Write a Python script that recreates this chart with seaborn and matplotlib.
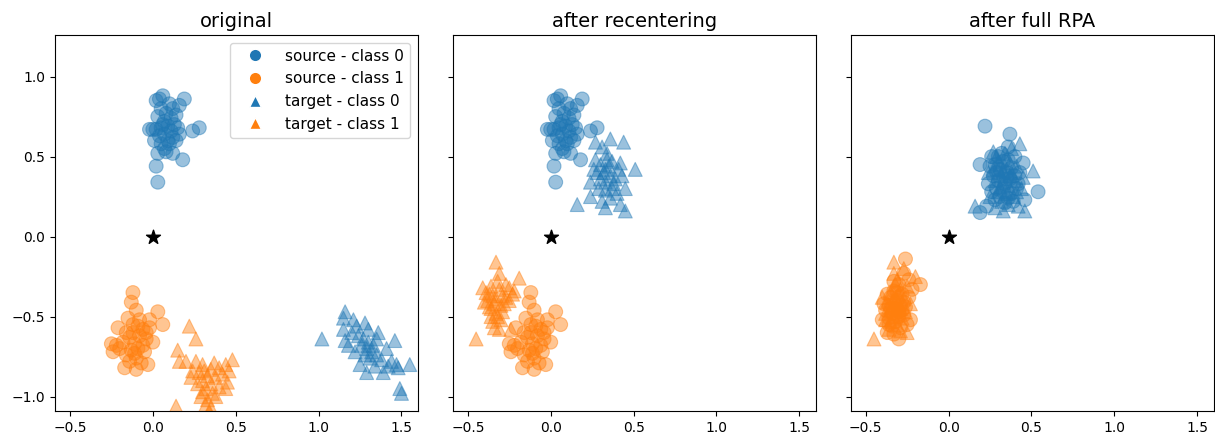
import seaborn as sns
import matplotlib.pyplot as plt
import pandas as pd
from matplotlib.lines import Line2D

# values
# --- original / after recentering: source data (identical in both panels)
src0_x = [0.04, 0.06, 0.02, 0.19, 0.16, 0.10, 0.12, 0.05, 0.08, 0.03, 0.11, 0.14, 0.07, 0.00,
          -0.02, 0.02, 0.05, 0.09, 0.13, 0.15, 0.11, 0.07, 0.04, 0.12, 0.09, 0.05, 0.14, 0.28,
          0.24, 0.07, 0.03, 0.12, 0.08, 0.18, 0.02, 0.03, 0.10, 0.06, 0.16, 0.01]
src0_y = [0.86, 0.88, 0.85, 0.86, 0.82, 0.83, 0.80, 0.80, 0.77, 0.75, 0.74, 0.76, 0.72, 0.67,
          0.67, 0.67, 0.68, 0.69, 0.70, 0.68, 0.66, 0.64, 0.63, 0.62, 0.60, 0.58, 0.60, 0.68,
          0.66, 0.55, 0.52, 0.52, 0.53, 0.48, 0.44, 0.34, 0.58, 0.70, 0.64, 0.60]
src1_x = [-0.12, -0.13, -0.10, -0.15, -0.08, 0.03, 0.06, -0.02, -0.21, -0.25, 0.00, -0.03, -0.17,
          -0.10, -0.12, -0.06, -0.04, -0.08, -0.14, -0.18, -0.11, -0.06, -0.09, -0.13, -0.16,
          -0.20, -0.22, -0.05, -0.10, -0.14, -0.07, -0.12, -0.02, -0.09, -0.16, -0.11, -0.24, -0.04]
src1_y = [-0.35, -0.41, -0.46, -0.51, -0.52, -0.47, -0.55, -0.52, -0.57, -0.67, -0.66, -0.80, -0.82,
          -0.83, -0.55, -0.58, -0.60, -0.62, -0.63, -0.66, -0.67, -0.68, -0.70, -0.71, -0.74,
          -0.70, -0.68, -0.72, -0.76, -0.78, -0.79, -0.60, -0.57, -0.56, -0.60, -0.73, -0.72, -0.64]

# --- original: target data
tgt0_x = [1.02, 1.16, 1.15, 1.21, 1.28, 1.36, 1.46, 1.41, 1.55, 1.47, 1.49, 1.50, 1.39, 1.29,
          1.25, 1.15, 1.16, 1.20, 1.24, 1.27, 1.30, 1.33, 1.26, 1.29, 1.32, 1.35, 1.22, 1.28,
          1.31, 1.38, 1.42, 1.34, 1.23, 1.30, 1.18, 1.44, 1.35, 1.48]
tgt0_y = [-0.64, -0.47, -0.51, -0.52, -0.54, -0.60, -0.65, -0.70, -0.80, -0.80, -0.95, -0.98, -0.85,
          -0.85, -0.80, -0.58, -0.65, -0.60, -0.62, -0.64, -0.66, -0.68, -0.68, -0.70, -0.72,
          -0.74, -0.72, -0.74, -0.76, -0.77, -0.81, -0.81, -0.56, -0.58, -0.68, -0.78, -0.64, -0.82]
tgt1_x = [0.22, 0.26, 0.15, 0.16, 0.48, 0.44, 0.45, 0.30, 0.32, 0.14, 0.20, 0.26, 0.30, 0.35,
          0.40, 0.28, 0.33, 0.38, 0.42, 0.30, 0.35, 0.40, 0.44, 0.27, 0.32, 0.36, 0.29, 0.33,
          0.38, 0.35, 0.31, 0.24, 0.37, 0.46, 0.34, 0.23]
tgt1_y = [-0.56, -0.64, -0.71, -0.78, -0.77, -0.80, -0.91, -0.97, -1.05, -1.06, -0.78, -0.78, -0.80,
          -0.83, -0.82, -0.85, -0.87, -0.88, -0.86, -0.90, -0.92, -0.94, -0.95, -0.92, -0.95,
          -0.98, -1.00, -1.02, -1.00, -1.07, -0.84, -0.84, -0.79, -0.84, -1.10, -0.88]

# --- after recentering: target data
rct0_x = [0.27, 0.36, 0.44, 0.31, 0.27, 0.34, 0.30, 0.41, 0.51, 0.24, 0.36, 0.43, 0.33, 0.40,
          0.24, 0.16, 0.33, 0.42, 0.45, 0.32, 0.35, 0.30, 0.38, 0.33, 0.28, 0.37, 0.34, 0.29,
          0.36, 0.31, 0.39, 0.26, 0.45, 0.33, 0.37, 0.42]
rct0_y = [0.59, 0.61, 0.59, 0.56, 0.48, 0.52, 0.45, 0.42, 0.42, 0.34, 0.38, 0.38, 0.29, 0.27,
          0.25, 0.20, 0.18, 0.20, 0.16, 0.40, 0.44, 0.36, 0.33, 0.34, 0.40, 0.47, 0.48, 0.30,
          0.24, 0.22, 0.36, 0.42, 0.30, 0.42, 0.30, 0.46]
rct1_x = [-0.33, -0.31, -0.19, -0.36, -0.25, -0.37, -0.29, -0.33, -0.34, -0.24, -0.45, -0.38,
          -0.34, -0.30, -0.27, -0.36, -0.32, -0.29, -0.39, -0.35, -0.31, -0.27, -0.22, -0.41,
          -0.35, -0.30, -0.37, -0.33, -0.28, -0.36, -0.31, -0.25, -0.40, -0.32, -0.23]
rct1_y = [-0.16, -0.23, -0.26, -0.31, -0.32, -0.36, -0.37, -0.48, -0.57, -0.58, -0.64, -0.40,
          -0.42, -0.43, -0.38, -0.45, -0.50, -0.47, -0.35, -0.37, -0.33, -0.30, -0.34, -0.32,
          -0.53, -0.52, -0.44, -0.39, -0.42, -0.50, -0.58, -0.40, -0.41, -0.28, -0.36]

# --- after full RPA: source and target
rpa_s0_x = [0.22, 0.37, 0.36, 0.19, 0.45, 0.54, 0.46, 0.19, 0.23, 0.34, 0.30, 0.33, 0.28, 0.25,
            0.31, 0.35, 0.38, 0.40, 0.27, 0.30, 0.34, 0.37, 0.42, 0.29, 0.33, 0.38, 0.26, 0.41,
            0.31, 0.36, 0.28, 0.40, 0.32, 0.26, 0.43, 0.24, 0.36, 0.39, 0.29, 0.35]
rpa_s0_y = [0.69, 0.64, 0.56, 0.45, 0.46, 0.28, 0.23, 0.15, 0.19, 0.21, 0.50, 0.47, 0.45, 0.44,
            0.42, 0.40, 0.43, 0.38, 0.38, 0.35, 0.33, 0.36, 0.33, 0.30, 0.28, 0.27, 0.28, 0.30,
            0.25, 0.24, 0.23, 0.50, 0.52, 0.50, 0.40, 0.33, 0.48, 0.22, 0.40, 0.36]
rpa_t0_x = [0.43, 0.51, 0.16, 0.33, 0.42, 0.46, 0.27, 0.30, 0.34, 0.38, 0.32, 0.28, 0.36, 0.40,
            0.44, 0.30, 0.35, 0.25, 0.39, 0.31, 0.33, 0.27, 0.37, 0.41, 0.29, 0.34, 0.38, 0.24,
            0.45, 0.32, 0.36, 0.28, 0.41, 0.33, 0.30, 0.37]
rpa_t0_y = [0.58, 0.41, 0.19, 0.16, 0.19, 0.16, 0.53, 0.47, 0.44, 0.40, 0.38, 0.35, 0.32, 0.35,
            0.30, 0.28, 0.27, 0.25, 0.25, 0.31, 0.41, 0.42, 0.46, 0.44, 0.50, 0.52, 0.55, 0.40,
            0.37, 0.22, 0.20, 0.18, 0.28, 0.34, 0.42, 0.38]
rpa_s1_x = [-0.26, -0.27, -0.17, -0.40, -0.23, -0.30, -0.37, -0.25, -0.30, -0.33, -0.28, -0.35,
            -0.31, -0.27, -0.36, -0.32, -0.28, -0.38, -0.34, -0.30, -0.36, -0.32, -0.27, -0.34,
            -0.29, -0.39, -0.24, -0.33, -0.22, -0.37, -0.29, -0.35, -0.31, -0.26, -0.33, -0.24,
            -0.30, -0.36]
rpa_s1_y = [-0.14, -0.23, -0.30, -0.52, -0.52, -0.64, -0.60, -0.55, -0.30, -0.34, -0.36, -0.38,
            -0.40, -0.41, -0.43, -0.45, -0.46, -0.46, -0.48, -0.50, -0.51, -0.53, -0.49, -0.56,
            -0.57, -0.42, -0.38, -0.28, -0.33, -0.36, -0.43, -0.45, -0.35, -0.44, -0.61, -0.27,
            -0.47, -0.55]
rpa_t1_x = [-0.33, -0.20, -0.45, -0.25, -0.31, -0.29, -0.35, -0.32, -0.27, -0.37, -0.30, -0.34,
            -0.29, -0.38, -0.33, -0.28, -0.35, -0.31, -0.26, -0.36, -0.40, -0.25, -0.30, -0.34,
            -0.27, -0.32, -0.38, -0.29, -0.23, -0.35, -0.31, -0.33]
rpa_t1_y = [-0.16, -0.25, -0.64, -0.60, -0.27, -0.33, -0.35, -0.38, -0.39, -0.41, -0.42, -0.44,
            -0.45, -0.48, -0.50, -0.51, -0.53, -0.55, -0.47, -0.58, -0.38, -0.31, -0.37, -0.40,
            -0.20, -0.30, -0.52, -0.59, -0.42, -0.46, -0.48, -0.23]

titles = ['original', 'after recentering', 'after full RPA']
legend_labels = ['source - class 0', 'source - class 1', 'target - class 0', 'target - class 1']


def make_df(s0, s1, t0, t1):
    parts = []
    for (xs, ys), dom, cls in [(s0, 'source', 0), (s1, 'source', 1), (t0, 'target', 0), (t1, 'target', 1)]:
        parts.append(pd.DataFrame({'x': xs, 'y': ys, 'domain': dom, 'cls': cls}))
    return pd.concat(parts, ignore_index=True)


panels = [
    make_df((src0_x, src0_y), (src1_x, src1_y), (tgt0_x, tgt0_y), (tgt1_x, tgt1_y)),
    make_df((src0_x, src0_y), (src1_x, src1_y), (rct0_x, rct0_y), (rct1_x, rct1_y)),
    make_df((rpa_s0_x, rpa_s0_y), (rpa_s1_x, rpa_s1_y), (rpa_t0_x, rpa_t0_y), (rpa_t1_x, rpa_t1_y)),
]

colors = {0: 'tab:blue', 1: 'tab:orange'}
markers = {'source': 'o', 'target': '^'}

fig, axes = plt.subplots(1, 3, figsize=(12.15, 4.4), dpi=100, sharex=True, sharey=True)
fig.subplots_adjust(left=0.0453, right=0.999, bottom=0.066, top=0.9205, wspace=0.096)

for ax, df, title in zip(axes, panels, titles):
    sns.scatterplot(data=df, x='x', y='y', hue='cls', style='domain', palette=colors,
                    markers=markers, s=100, alpha=0.45, edgecolor='face', linewidth=0.8,
                    legend=False, ax=ax)
    ax.scatter([0], [0], marker='*', s=110, color='k', zorder=5)
    ax.set_title(title, fontsize=14)
    ax.set_xlabel('')
    ax.set_ylabel('')

axes[0].set_xlim(-0.59, 1.6)
axes[0].set_ylim(-1.09, 1.26)
axes[0].set_xticks([-0.5, 0.0, 0.5, 1.0, 1.5])
axes[0].set_yticks([-1.0, -0.5, 0.0, 0.5, 1.0])

# custom legend with solid markers
handles = [Line2D([0], [0], marker='o', color='w', markerfacecolor='tab:blue', markersize=9),
           Line2D([0], [0], marker='o', color='w', markerfacecolor='tab:orange', markersize=9),
           Line2D([0], [0], marker='^', color='w', markerfacecolor='tab:blue', markersize=9),
           Line2D([0], [0], marker='^', color='w', markerfacecolor='tab:orange', markersize=9)]
axes[0].legend(handles=handles, labels=legend_labels, loc='upper right', fontsize=11,
               handlelength=2.4, labelspacing=0.5, borderaxespad=0.5)

plt.savefig('out.png', dpi=100)
